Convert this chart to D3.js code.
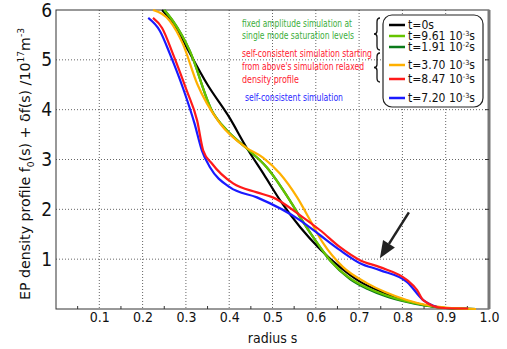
<!DOCTYPE html>
<html>
<head>
<meta charset="utf-8">
<script src="https://cdn.jsdelivr.net/npm/d3@7"></script>
<style>
  body { margin: 0; background: #fff; }
  text { font-family: "DejaVu Sans", sans-serif; font-stretch: condensed; }
</style>
</head>
<body>
<svg id="chart" width="507" height="349"></svg>
<script>
// radius s values and densities
const black = [[0.245, 6.0], [0.26, 5.85], [0.28, 5.6], [0.3, 5.28], [0.35, 4.5], [0.4, 3.85], [0.44, 3.24],
  [0.48, 2.7], [0.52, 2.15], [0.564, 1.64], [0.61, 1.2], [0.656, 0.84], [0.7, 0.56], [0.75, 0.35],
  [0.8, 0.19], [0.85, 0.08], [0.9, 0.02], [0.97, 0.0]];
const lightGreen = [[0.25, 6.0], [0.27, 5.78], [0.309, 5.18], [0.36, 3.98], [0.395, 3.58], [0.441, 3.22],
  [0.487, 2.84], [0.54, 2.18], [0.564, 1.84], [0.594, 1.44], [0.633, 0.98], [0.679, 0.62], [0.72, 0.42],
  [0.76, 0.28], [0.81, 0.15], [0.85, 0.08], [0.9, 0.02], [0.97, 0.0]];
const darkGreen = [[0.25, 6.0], [0.27, 5.78], [0.309, 5.18], [0.36, 3.98], [0.395, 3.58], [0.441, 3.22],
  [0.487, 2.84], [0.54, 2.18], [0.564, 1.84], [0.594, 1.44], [0.633, 0.97], [0.679, 0.6], [0.72, 0.4],
  [0.76, 0.26], [0.81, 0.14], [0.85, 0.07], [0.9, 0.02], [0.97, 0.0]];
const orange = [[0.224, 6.0], [0.263, 5.78], [0.293, 5.32], [0.326, 4.52], [0.379, 3.72], [0.439, 3.24],
  [0.478, 3.04], [0.517, 2.72], [0.557, 2.24], [0.587, 1.78], [0.617, 1.32], [0.663, 0.84], [0.718, 0.52],
  [0.76, 0.34], [0.81, 0.18], [0.85, 0.09], [0.9, 0.03], [0.97, 0.0]];
const red = [[0.224, 5.84], [0.245, 5.64], [0.27, 5.12], [0.302, 4.38], [0.326, 3.78], [0.34, 3.18],
  [0.36, 2.92], [0.409, 2.52], [0.464, 2.34], [0.501, 2.24], [0.564, 1.88], [0.61, 1.58], [0.656, 1.24],
  [0.702, 0.98], [0.748, 0.84], [0.811, 0.58], [0.834, 0.38], [0.848, 0.18], [0.894, 0.02], [0.952, 0.01]];
const blue = [[0.213, 5.84], [0.24, 5.58], [0.263, 5.12], [0.293, 4.44], [0.32, 3.72], [0.337, 3.18],
  [0.356, 2.84], [0.402, 2.44], [0.464, 2.24], [0.564, 1.78], [0.61, 1.48], [0.656, 1.18], [0.702, 0.92],
  [0.748, 0.78], [0.811, 0.54], [0.848, 0.18], [0.88, 0.04]];

const series = [
  { name: 't=0s', data: black, color: '#000000' },
  { name: 't=9.61 10', exp: '-3', data: lightGreen, color: '#66c400' },
  { name: 't=1.91 10', exp: '-2', data: darkGreen, color: '#0a7a1a' },
  { name: 't=3.70 10', exp: '-3', data: orange, color: '#ffb000' },
  { name: 't=8.47 10', exp: '-3', data: red, color: '#ff1a1a' },
  { name: 't=7.20 10', exp: '-3', data: blue, color: '#1a1aff' },
];
const drawOrder = [0, 2, 1, 3, 5, 4];

const xTicks = [0.1, 0.2, 0.3, 0.4, 0.5, 0.6, 0.7, 0.8, 0.9, 1.0];
const yTicks = [1, 2, 3, 4, 5, 6];

const notes = [
  { lines: ['fixed amplitude simulation at', 'single mode saturation levels'], widths: [110, 112],
    color: '#3cae3c', x: 242, y: 27, step: 11.5 },
  { lines: ['self-consistent simulation starting', "from above's simulation relaxed", 'density profile'],
    widths: [130, 122, 57], color: '#ff2030', x: 242, y: 57, step: 13 },
  { lines: ['self-consistent simulation'], widths: [98], color: '#2a2aff', x: 245, y: 101, step: 0 },
];

const margin = { left: 56, right: 18, top: 10, bottom: 40 };
const width = 507 - margin.left - margin.right;
const height = 349 - margin.top - margin.bottom;

const svg = d3.select('#chart');
const g = svg.append('g').attr('transform', `translate(${margin.left},${margin.top})`);

const x = d3.scaleLinear().domain([0, 1]).range([0, width]);
const y = d3.scaleLinear().domain([0, 6]).range([height, 0]);

// dotted grid
g.append('g').selectAll('line').data(xTicks.slice(0, -1)).join('line')
  .attr('x1', (d) => x(d)).attr('x2', (d) => x(d))
  .attr('y1', 0).attr('y2', height)
  .attr('stroke', '#666').attr('stroke-width', 1).attr('stroke-dasharray', '1,2');
g.append('g').selectAll('line').data(yTicks.slice(0, -1)).join('line')
  .attr('x1', 0).attr('x2', width)
  .attr('y1', (d) => y(d)).attr('y2', (d) => y(d))
  .attr('stroke', '#666').attr('stroke-width', 1).attr('stroke-dasharray', '1,2');

// frame
g.append('rect').attr('x', 0).attr('y', 0).attr('width', width).attr('height', height)
  .attr('fill', 'none').attr('stroke', '#333').attr('stroke-width', 1);
g.append('line').attr('x1', width).attr('x2', width).attr('y1', 0).attr('y2', height)
  .attr('stroke', '#777').attr('stroke-width', 3);

// axes
const xAxis = g.append('g').attr('transform', `translate(0,${height})`)
  .call(d3.axisBottom(x).tickValues(xTicks).tickFormat(d3.format('.1f')).tickSize(0).tickPadding(3));
xAxis.select('.domain').remove();
xAxis.selectAll('text').attr('font-size', 14).attr('fill', '#111');

const minor = d3.range(0.05, 1, 0.1);
g.append('g').selectAll('line').data(minor).join('line')
  .attr('x1', (d) => x(d)).attr('x2', (d) => x(d))
  .attr('y1', height).attr('y2', height - 3)
  .attr('stroke', '#333');

const yAxis = g.append('g')
  .call(d3.axisLeft(y).tickValues(yTicks).tickFormat(d3.format('d')).tickSize(0).tickPadding(4));
yAxis.select('.domain').remove();
yAxis.selectAll('text').attr('font-size', 19).attr('fill', '#111');

g.append('g').selectAll('line').data(yTicks.slice(0, -1)).join('line')
  .attr('x1', width - 4).attr('x2', width).attr('y1', (d) => y(d)).attr('y2', (d) => y(d))
  .attr('stroke', '#333');

// axis titles
svg.append('text').attr('x', margin.left + x(0.5)).attr('y', 343)
  .attr('text-anchor', 'middle').attr('font-size', 14).attr('fill', '#111').text('radius s');

const yt = svg.append('text')
  .attr('transform', `translate(30,${164}) rotate(-90)`)
  .attr('text-anchor', 'middle').attr('font-size', 14).attr('fill', '#111')
  .attr('textLength', 272).attr('lengthAdjust', 'spacingAndGlyphs');
yt.append('tspan').text('EP density profile f');
yt.append('tspan').attr('font-size', 9).attr('dy', 4).text('0');
yt.append('tspan').attr('dy', -4).text('(s) + δf(s) /10');
yt.append('tspan').attr('font-size', 9).attr('dy', -6).text('17');
yt.append('tspan').attr('dy', 6).text('m');
yt.append('tspan').attr('font-size', 9).attr('dy', -6).text('-3');

// curves
const line = d3.line().x((d) => x(d[0])).y((d) => y(d[1])).curve(d3.curveMonotoneX);
g.append('g')
  .selectAll('path').data(drawOrder.map((i) => series[i])).join('path')
  .attr('d', (d) => line(d.data))
  .attr('fill', 'none')
  .attr('stroke', (d) => d.color)
  .attr('stroke-width', 2.2)
  .attr('stroke-linejoin', 'round');

// arrow
const arrowStart = [0.815, 1.94];
const arrowEnd = [0.748, 1.02];
const x0 = x(arrowStart[0]); const y0 = y(arrowStart[1]);
const x1 = x(arrowEnd[0]); const y1 = y(arrowEnd[1]);
const ang = Math.atan2(y1 - y0, x1 - x0);
const headLen = 17; const headW = 7;
const bx = x1 - headLen * Math.cos(ang); const by = y1 - headLen * Math.sin(ang);
g.append('line').attr('x1', x0).attr('y1', y0).attr('x2', bx).attr('y2', by)
  .attr('stroke', '#222').attr('stroke-width', 2.5);
g.append('path')
  .attr('d', `M${x1},${y1}L${bx + headW * Math.sin(ang)},${by - headW * Math.cos(ang)}L${bx - headW * Math.sin(ang)},${by + headW * Math.cos(ang)}Z`)
  .attr('fill', '#222');

// annotations
notes.forEach((n) => {
  n.lines.forEach((l, i) => {
    svg.append('text').attr('x', n.x).attr('y', n.y + i * n.step)
      .attr('font-size', 11).attr('fill', n.color)
      .attr('textLength', n.widths[i]).attr('lengthAdjust', 'spacingAndGlyphs')
      .text(l);
  });
});

// legend
const legend = svg.append('g');
legend.append('rect').attr('x', 383).attr('y', 15).attr('width', 100).attr('height', 92)
  .attr('rx', 9).attr('fill', '#fff').attr('stroke', '#222').attr('stroke-width', 1.2);
const rowY = [25, 36, 47, 65, 79, 98];
series.forEach((s, i) => {
  const row = legend.append('g').attr('transform', `translate(0,${rowY[i]})`);
  row.append('line').attr('x1', 389).attr('x2', 405).attr('y1', 0).attr('y2', 0)
    .attr('stroke', s.color).attr('stroke-width', 2.5);
  const t = row.append('text').attr('x', 408).attr('y', 4).attr('font-size', 11.5).attr('fill', '#111')
    .attr('textLength', s.exp ? 67 : 26).attr('lengthAdjust', 'spacingAndGlyphs');
  t.append('tspan').text(s.name);
  if (s.exp) {
    t.append('tspan').attr('font-size', 7).attr('dy', -4).text(s.exp);
    t.append('tspan').attr('dy', 4).text('s');
  }
});

// braces
function brace(xp, ya, yb) {
  const m = (ya + yb) / 2;
  return `M${xp + 3},${ya} q-3,0 -3,4 L${xp},${m - 3} q0,3 -3,3 q3,0 3,3 L${xp},${yb - 4} q0,4 3,4`;
}
svg.append('path').attr('d', brace(377, 18, 50)).attr('fill', 'none').attr('stroke', '#111').attr('stroke-width', 1.3);
svg.append('path').attr('d', brace(377, 53, 82)).attr('fill', 'none').attr('stroke', '#111').attr('stroke-width', 1.3);
</script>
</body>
</html>
